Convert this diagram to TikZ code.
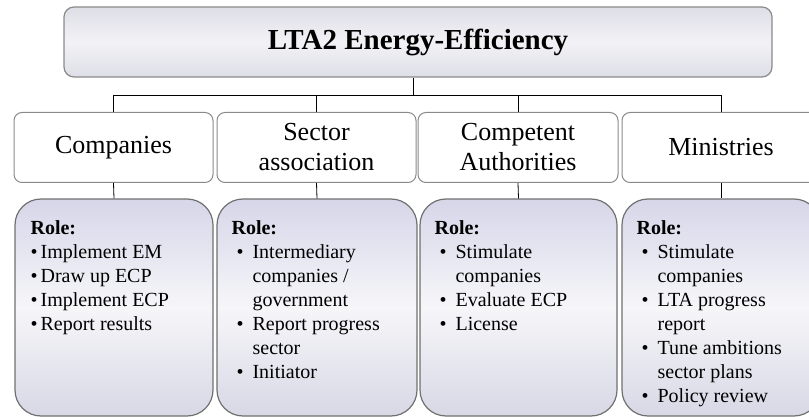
\documentclass[tikz,border=0pt]{standalone}
\usepackage{fontspec}
\setmainfont{Liberation Serif}
\usetikzlibrary{positioning}

\definecolor{framegray}{HTML}{8A8A8A}
\definecolor{roleframe}{HTML}{707070}
\definecolor{headedge}{HTML}{DEDEE7}
\definecolor{headmid}{HTML}{F2F2F6}
\definecolor{roletop}{HTML}{D6D6E9}
\definecolor{rolemid}{HTML}{F6F6F9}
\definecolor{rolebot}{HTML}{D8D8E6}

% bullet with hanging indent for the role lists
\newcommand{\rolepoint}{\makebox[21pt][l]{\hspace{5pt}\textbullet}}
\newcommand{\rolecont}{\hspace*{21pt}}

\tikzset{
  head/.style={draw=framegray, line width=1.2pt, rounded corners=10pt,
    top color=headedge, bottom color=headedge, middle color=headmid,
    minimum width=708pt, minimum height=70pt,
    font=\fontsize{29}{34}\selectfont\bfseries},
  actor/.style={draw=framegray, line width=1pt, rounded corners=8pt,
    fill=white, minimum height=70pt, align=center,
    font=\fontsize{26}{30}\selectfont},
  rolebox/.style={draw=roleframe, line width=1.2pt, rounded corners=26pt,
    top color=roletop, bottom color=rolebot, middle color=rolemid,
    minimum height=217pt},
  roletext/.style={anchor=north west, inner sep=0pt, align=left,
    font=\fontsize{20}{24}\selectfont},
  link/.style={draw=black, line width=0.8pt}
}

\begin{document}
\begin{tikzpicture}[x=1pt, y=-1pt]
  \useasboundingbox (0,0) rectangle (809,417);

  % top of the chart
  \node[head] (lta) at (418,42) {LTA2 Energy-Efficiency};

  % the four parties
  \node[actor, minimum width=199pt] (comp) at (113.5,147.5) {Companies};
  \node[actor, minimum width=199pt] (sect) at (316.5,147.5) {Sector\\association};
  \node[actor, minimum width=200pt] (auth) at (518,147.5) {Competent\\Authorities};
  \node[actor, minimum width=198pt] (mini) at (721,147.5) {Ministries};

  % role boxes
  \node[rolebox, minimum width=198pt] (comprole) at (114,307.5) {};
  \node[rolebox, minimum width=200pt] (sectrole) at (317,307.5) {};
  \node[rolebox, minimum width=197pt] (authrole) at (518.5,307.5) {};
  \node[rolebox, minimum width=198pt] (minirole) at (721,307.5) {};

  \node[roletext, below right=22pt and 16pt of comprole.north west] (comptext)
    {\textbf{Role:}\\
     \textbullet\hspace{3pt}Implement EM\\
     \textbullet\hspace{3pt}Draw up ECP\\
     \textbullet\hspace{3pt}Implement ECP\\
     \textbullet\hspace{3pt}Report results};
  \node[roletext, below right=22pt and 15pt of sectrole.north west] (secttext)
    {\textbf{Role:}\\
     \rolepoint Intermediary\\
     \rolecont companies /\\
     \rolecont government\\
     \rolepoint Report progress\\
     \rolecont sector\\
     \rolepoint Initiator};
  \node[roletext, below right=22pt and 15pt of authrole.north west] (authtext)
    {\textbf{Role:}\\
     \rolepoint Stimulate\\
     \rolecont companies\\
     \rolepoint Evaluate ECP\\
     \rolepoint License};
  \node[roletext, below right=22pt and 15pt of minirole.north west] (minitext)
    {\textbf{Role:}\\
     \rolepoint Stimulate\\
     \rolecont companies\\
     \rolepoint LTA progress\\
     \rolecont report\\
     \rolepoint Tune ambitions\\
     \rolecont sector plans\\
     \rolepoint Policy review};

  % tree lines
  \coordinate (bus) at (413,95.5);
  \draw[link] (lta.south -| bus) -- (bus);
  \draw[link] (comp.north) -- (comp.north |- bus) -- (mini.north |- bus) -- (mini.north);
  \draw[link] (sect.north |- bus) -- (sect.north);
  \draw[link] (auth.north |- bus) -- (auth.north);

  \foreach \who in {comp, sect, auth, mini}
    \draw[link] (\who.south) -- (\who role.north);
\end{tikzpicture}
\end{document}
